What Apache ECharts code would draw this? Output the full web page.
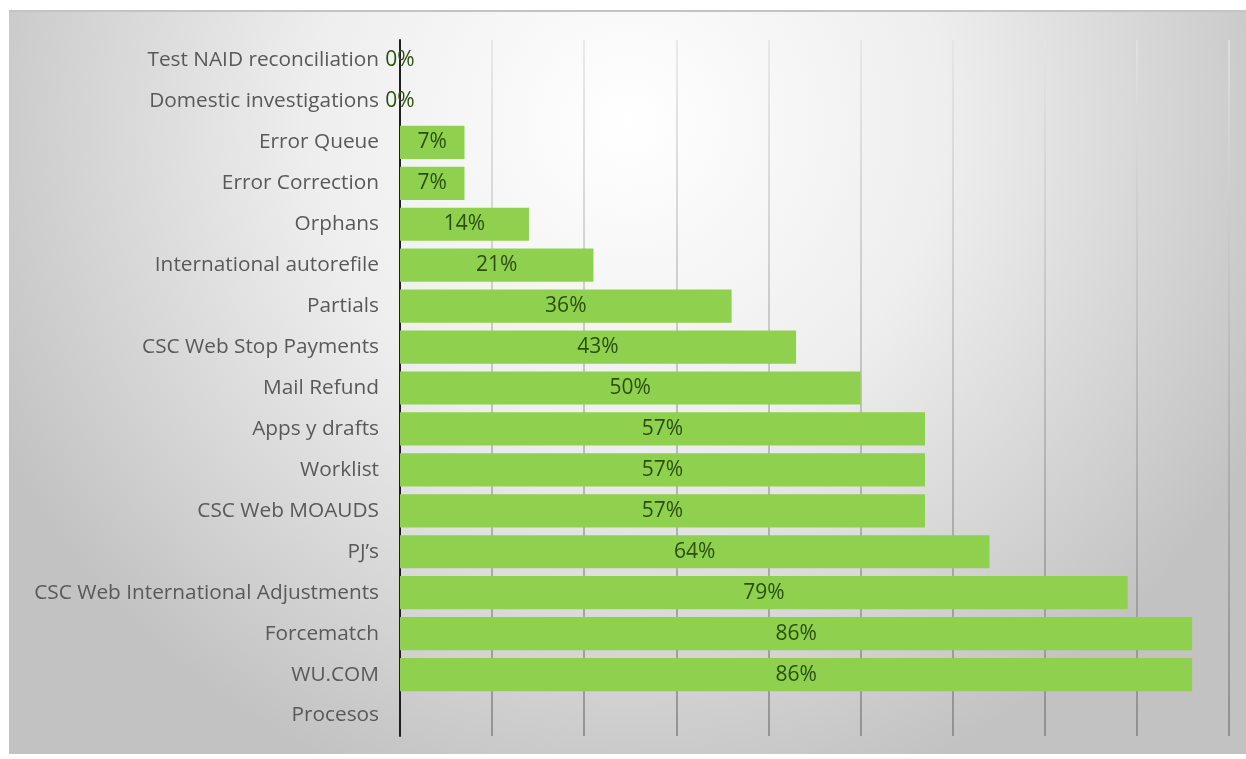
<!DOCTYPE html>
<html>
<head>
<meta charset="utf-8">
<script src="https://cdn.jsdelivr.net/npm/echarts@6/dist/echarts.min.js"></script>
<style>
  html, body { margin: 0; padding: 0; background: #ffffff; }
  #frame {
    position: absolute; left: 9px; top: 10px; width: 1237px; height: 744px;
    border-top: 2px solid #c4c4c4;
    box-sizing: border-box;
  }
  #chart { width: 100%; height: 100%; }
</style>
</head>
<body>
<div id="frame"><div id="chart"></div></div>
<script>
// Process names, listed bottom to top
const categories = [
  'Procesos',
  'WU.COM',
  'Forcematch',
  'CSC Web International Adjustments',
  'PJ\u2019s',
  'CSC Web MOAUDS',
  'Worklist',
  'Apps y drafts',
  'Mail Refund',
  'CSC Web Stop Payments',
  'Partials',
  'International autorefile',
  'Orphans',
  'Error Correction',
  'Error Queue',
  'Domestic investigations',
  'Test NAID reconciliation'
];

// Share per process (fraction); the "Procesos" row has no bar
const shares = [null, 0.86, 0.86, 0.79, 0.64, 0.57, 0.57, 0.57, 0.50, 0.43, 0.36, 0.21, 0.14, 0.07, 0.07, 0, 0];

const axisMax = 0.9;
const axisStep = 0.1;

const chart = echarts.init(document.getElementById('chart'));

chart.setOption({
  backgroundColor: new echarts.graphic.RadialGradient(0.5, 0.15, 0.95, [
    { offset: 0, color: '#ffffff' },
    { offset: 0.45, color: '#eeeeee' },
    { offset: 1, color: '#c2c2c2' }
  ]),
  animation: false,
  grid: { left: 391, top: 28, width: 829, height: 696, containLabel: false },
  xAxis: {
    type: 'value',
    min: 0,
    max: axisMax,
    interval: axisStep,
    axisLabel: { show: false },
    axisLine: { show: false },
    axisTick: { show: false },
    splitLine: {
      show: true,
      lineStyle: {
        width: 1.5,
        color: new echarts.graphic.LinearGradient(0, 0, 0, 1, [
          { offset: 0, color: '#e4e4e4' },
          { offset: 1, color: '#808080' }
        ])
      }
    }
  },
  yAxis: {
    type: 'category',
    data: categories,
    axisLine: { show: true, lineStyle: { color: '#1e1e1e', width: 2 } },
    axisTick: { show: false },
    axisLabel: {
      color: '#595959',
      fontFamily: 'Open Sans',
      fontSize: 20.8,
      margin: 21
    }
  },
  series: [{
    type: 'bar',
    data: shares,
    barCategoryGap: '19%',
    itemStyle: { color: '#8fd14f' },
    label: {
      show: true,
      position: 'inside',
      formatter: p => Math.round(p.value * 100) + '%',
      color: '#2b4f10',
      fontFamily: 'Open Sans',
      fontSize: 21
    }
  }]
});
</script>
</body>
</html>
